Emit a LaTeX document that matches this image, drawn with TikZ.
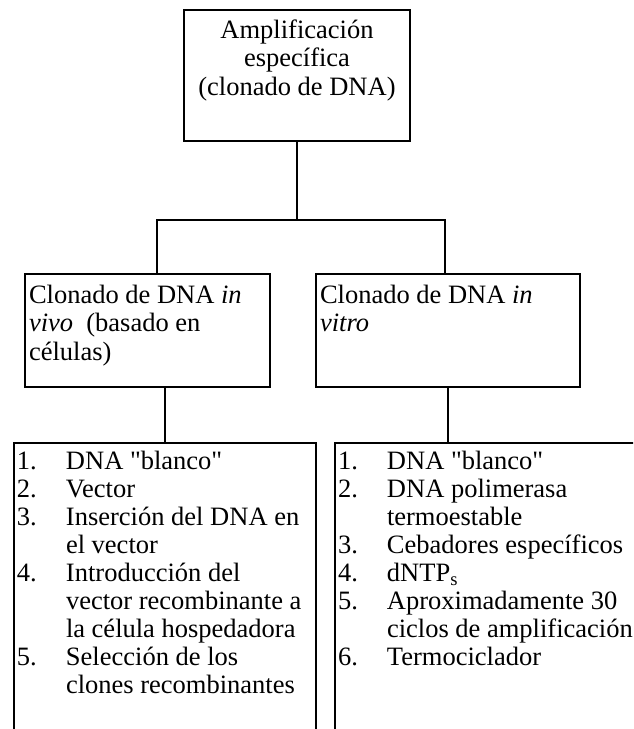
\documentclass[tikz,border=0pt]{standalone}
\usepackage{fontspec}
\setmainfont{Liberation Serif}[Ligatures=TeXOff]
\usetikzlibrary{positioning}

% un elemento numerado con sangria francesa
\newcommand{\elem}[2]{\par\hangindent=24.5pt\hangafter=1\noindent\makebox[24.5pt][l]{#1}#2}

\begin{document}
\begin{tikzpicture}[x=0.5pt,y=-0.5pt]
    \tikzset{caja/.style={draw, line width=1pt, inner sep=0pt, anchor=north west,
                font=\fontsize{13.25}{14.4}\selectfont},
        lista/.style={caja, font=\fontsize{13.25}{14}\selectfont},
        rama/.style={line width=1pt}
        }
    \useasboundingbox (0,0) rectangle (633,729);
    \clip (0,0) rectangle (633,729);

    \node [caja] (arriba) at (183,9) {\parbox[c][65.5pt][t]{113pt}{\centering
        \rule{0pt}{14pt}Amplificación\\específica\\(clonado de DNA)}};
    \node [caja] (izq) at (24,273) {\parbox[c][56.5pt][t]{122.5pt}{\leftskip=2pt
        \rule{0pt}{14.5pt}Clonado de DNA \textit{in}\\\textit{vivo}\ \ (basado en\\células)}};
    \node [caja] (der) at (315,273) {\parbox[c][56.5pt][t]{132pt}{\leftskip=2pt
        \rule{0pt}{14.5pt}Clonado de DNA \textit{in}\\\textit{vitro}}};
    \node [lista] (listaizq) at (13,442) {\parbox[c][159pt][t]{151pt}{\leftskip=1.5pt
        \rightskip=0pt plus 1fil
        \elem{1.}{\rule{0pt}{13pt}DNA "blanco"}
        \elem{2.}{Vector}
        \elem{3.}{Inserción del DNA en\newline el vector}
        \elem{4.}{Introducción del\newline vector recombinante a\newline la célula hospedadora}
        \elem{5.}{Selección de los\newline clones recombinantes}\par}};
    \node [lista] (listader) at (334,442) {\parbox[c][159pt][t]{163pt}{\leftskip=1.5pt
        \rightskip=0pt plus 1fil
        \elem{1.}{\rule{0pt}{13pt}DNA "blanco"}
        \elem{2.}{DNA polimerasa\newline termoestable}
        \elem{3.}{Cebadores específicos}
        \elem{4.}{dNTP\textsubscript{s}}
        \elem{5.}{Aproximadamente 30\newline ciclos de amplificación}
        \elem{6.}{Termociclador}\par}};

    \coordinate (ramaizq) at (157,220);
    \coordinate (ramader) at (445,220);

%% lineas
    \draw [rama] (arriba.south) -- (arriba.south |- ramaizq);
    \draw [rama] (ramaizq |- izq.north) -- (ramaizq) -- (ramader) -- (ramader |- der.north);
    \draw [rama] (izq.south -| listaizq.north) -- (listaizq.north);
    \draw [rama] (der.south) -- (der.south |- listader.north);
\end{tikzpicture}
\end{document}
